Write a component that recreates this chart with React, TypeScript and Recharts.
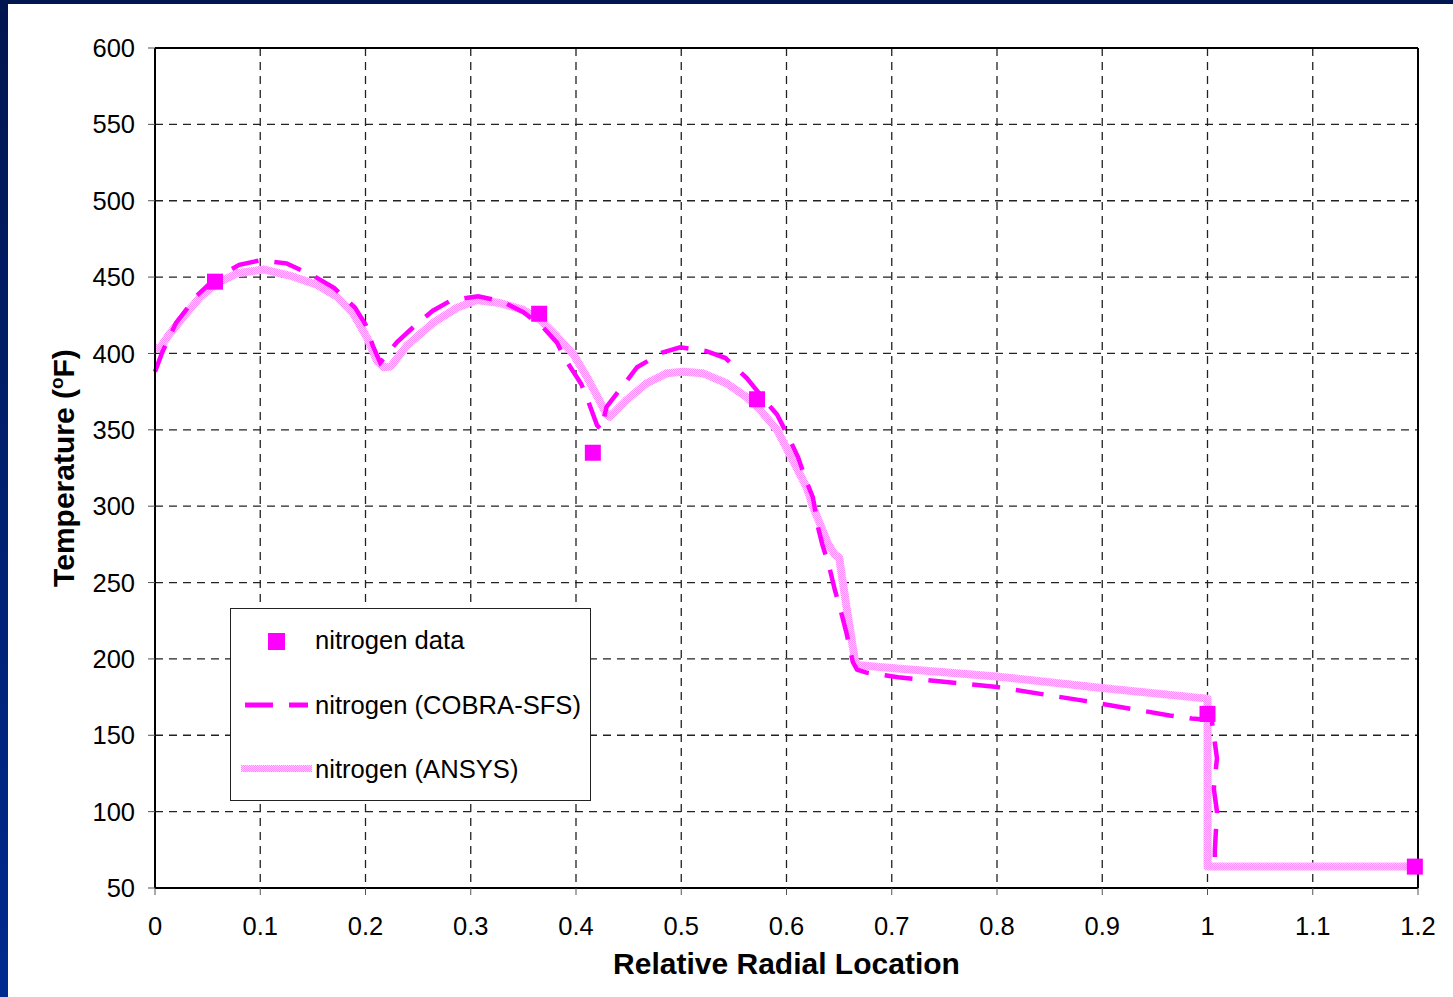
import React from "react";
import {
  ComposedChart,
  Line,
  Scatter,
  XAxis,
  YAxis,
  CartesianGrid,
  ReferenceLine,
  Legend,
} from "recharts";

// tick values
const xTicks = [0, 0.1, 0.2, 0.3, 0.4, 0.5, 0.6, 0.7, 0.8, 0.9, 1, 1.1, 1.2];
const yTicks = [50, 100, 150, 200, 250, 300, 350, 400, 450, 500, 550, 600];

// measured nitrogen temperatures
const dataX = [0.057, 0.365, 0.416, 0.572, 1.0, 1.197];
const dataT = [447, 426, 335, 370, 164, 64];

// COBRA-SFS prediction
const cobraX = [
  0, 0.007, 0.02, 0.04, 0.057, 0.08, 0.1, 0.125, 0.15, 0.17, 0.19, 0.2, 0.207,
  0.214, 0.23, 0.245, 0.264, 0.282, 0.307, 0.33, 0.35, 0.369, 0.382, 0.39,
  0.405, 0.412, 0.42, 0.424, 0.429, 0.447, 0.458, 0.482, 0.499, 0.524, 0.542,
  0.562, 0.581, 0.591, 0.6, 0.611, 0.619, 0.625, 0.63, 0.634, 0.64, 0.646,
  0.651, 0.657, 0.663, 0.667, 0.676, 0.706, 0.8, 0.879, 0.964, 0.985, 1.004,
  1.005, 1.009, 1.006, 1.009, 1.007, 1.007,
];
const cobraT = [
  388, 401, 420, 438, 449, 458, 461, 459, 451, 443, 430, 419, 405, 394, 407.5,
  417, 428, 435, 437.5, 434, 427, 417, 407, 396, 380, 368, 353, 350, 365, 381,
  391, 400.6, 404, 401.5, 397, 384, 368, 360, 348, 332, 316, 306, 286, 275,
  262, 245, 233, 217, 198, 193, 191, 188, 181.6, 173, 163, 161, 160, 155, 135,
  115, 100, 75, 64,
];

// ANSYS prediction
const ansysX = [
  0, 0.005, 0.014, 0.027, 0.043, 0.059, 0.078, 0.103, 0.128, 0.154, 0.173,
  0.188, 0.201, 0.211, 0.217, 0.224, 0.239, 0.264, 0.287, 0.306, 0.328, 0.35,
  0.366, 0.382, 0.397, 0.41, 0.42, 0.429, 0.432, 0.448, 0.467, 0.486, 0.502,
  0.521, 0.543, 0.562, 0.575, 0.591, 0.606, 0.619, 0.625, 0.639, 0.646, 0.65,
  0.657, 0.665, 0.667, 0.7, 0.8, 0.9, 1.0, 1.0, 1.2,
];
const ansysT = [
  403, 404, 413, 424, 437, 446, 452.5, 455, 451, 445, 437, 426.5, 411, 395,
  391, 391.5, 405, 420, 430, 435, 433, 428.5, 422, 411, 400, 385, 372, 360,
  358.5, 369.5, 380.5, 387, 388, 387, 380.5, 371.5, 363, 350, 330, 312.5, 300,
  276, 268, 266.5, 234, 199, 196, 194, 188.5, 181, 174, 64, 64,
];

const legendItems = ["nitrogen data", "nitrogen (COBRA-SFS)", "nitrogen (ANSYS)"];

const toPoints = (xs: number[], ys: number[]) => xs.map((x, i) => ({ x, y: ys[i] }));

const measured = toPoints(dataX, dataT);
const cobra = toPoints(cobraX, cobraT);
const ansys = toPoints(ansysX, ansysT);

const FONT = '"Liberation Sans", Arial, Helvetica, sans-serif';
const MAGENTA = "#FF00FF";

const SquareDot = (props: any) => {
  const { cx, cy } = props;
  if (cx == null || cy == null) return null;
  return <rect x={cx - 8} y={cy - 8} width={16} height={16} fill={MAGENTA} />;
};

const LegendBox = () => (
  <div style={{ width: 361, height: 193, background: "#fff", border: "1px solid #222", boxSizing: "border-box" }}>
    <svg width={359} height={191} style={{ display: "block" }}>
      <rect x={37} y={24} width={17} height={17} fill={MAGENTA} />
      <line x1={14} x2={42} y1={96} y2={96} stroke={MAGENTA} strokeWidth={5} />
      <line x1={58} x2={77} y1={96} y2={96} stroke={MAGENTA} strokeWidth={5} />
      <rect x={10} y={156} width={71} height={7} fill="url(#ansysFill)" />
      {legendItems.map((t, i) => (
        <text key={t} x={84} y={40 + i * 64.5} fontSize={25.6} fontFamily={FONT} fill="#000">
          {t}
        </text>
      ))}
    </svg>
  </div>
);

const YTitle = (props: any) => {
  const vb = props.viewBox || { x: 0, y: 48, width: 155, height: 840 };
  const cy = vb.y + vb.height / 2;
  return (
    <text
      transform={`translate(74, ${cy}) rotate(-90)`}
      textAnchor="middle"
      fontSize={30}
      fontWeight="bold"
      fontFamily={FONT}
      fill="#000"
    >
      Temperature (
      <tspan dy={-11} fontSize={19}>o</tspan>
      <tspan dy={11}>F)</tspan>
    </text>
  );
};

const XTitle = (props: any) => {
  const vb = props.viewBox || { x: 155, y: 888, width: 1263, height: 109 };
  return (
    <text
      x={vb.x + vb.width / 2}
      y={974}
      textAnchor="middle"
      fontSize={30}
      fontWeight="bold"
      fontFamily={FONT}
      fill="#000"
    >
      Relative Radial Location
    </text>
  );
};

export default function App() {
  return (
    <div
      style={{
        position: "absolute",
        left: 0,
        top: 0,
        width: 1453,
        height: 997,
        background: "linear-gradient(to bottom, #001650, #002a90)",
        overflow: "hidden",
      }}
    >
      <div style={{ position: "absolute", left: 8, top: 4, right: 0, bottom: 0, background: "#fff" }} />
      <div style={{ position: "absolute", left: 0, top: 0 }}>
        <ComposedChart
          width={1453}
          height={997}
          margin={{ top: 48, right: 35, left: 0, bottom: 0 }}
        >
          <defs>
            <pattern id="ansysFill" width={2} height={2} patternUnits="userSpaceOnUse">
              <rect width={2} height={2} fill="#FFD4FF" />
              <rect width={1} height={1} fill="#FF8AFF" />
              <rect x={1} y={1} width={1} height={1} fill="#FF8AFF" />
            </pattern>
          </defs>
          <CartesianGrid stroke="#222" strokeWidth={1.3} strokeDasharray="8 6" />
          <XAxis
            dataKey="x"
            type="number"
            domain={[0, 1.2]}
            ticks={xTicks}
            height={109}
            tickSize={7}
            tickMargin={22}
            tickFormatter={(v: number) => String(v)}
            axisLine={{ stroke: "#000", strokeWidth: 2 }}
            tickLine={{ stroke: "#555" }}
            tick={{ fill: "#000", fontSize: 25.5, fontFamily: FONT }}
            label={<XTitle />}
          />
          <YAxis
            dataKey="y"
            type="number"
            domain={[50, 600]}
            ticks={yTicks}
            width={155}
            tickSize={7}
            tickMargin={13}
            axisLine={{ stroke: "#000", strokeWidth: 2 }}
            tickLine={{ stroke: "#555" }}
            tick={{ fill: "#000", fontSize: 25.5, fontFamily: FONT }}
            label={<YTitle />}
          />
          <ReferenceLine y={600} stroke="#000" strokeWidth={2} />
          <ReferenceLine x={1.2} stroke="#000" strokeWidth={2} />
          <Line
            data={ansys}
            dataKey="y"
            type="linear"
            stroke="url(#ansysFill)"
            strokeWidth={8}
            strokeLinejoin="round"
            dot={false}
            activeDot={false}
            isAnimationActive={false}
          />
          <Line
            data={cobra}
            dataKey="y"
            type="linear"
            stroke={MAGENTA}
            strokeWidth={4.5}
            strokeDasharray="28 16"
            dot={false}
            activeDot={false}
            isAnimationActive={false}
          />
          <Scatter data={measured} dataKey="y" shape={<SquareDot />} isAnimationActive={false} />
          <Legend
            layout="horizontal"
            verticalAlign="middle"
            align="center"
            content={() => <LegendBox />}
            wrapperStyle={{ position: "absolute", left: 230, top: 608, width: 361, height: 193 }}
          />
        </ComposedChart>
      </div>
    </div>
  );
}
